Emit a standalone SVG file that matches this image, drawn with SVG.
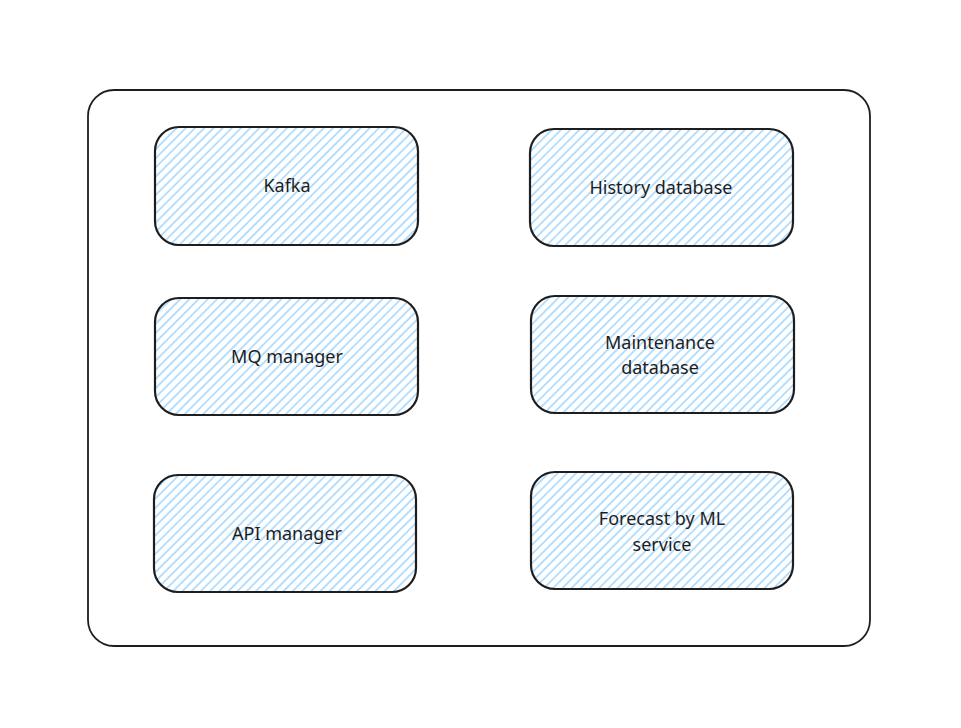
<svg xmlns="http://www.w3.org/2000/svg" width="961" height="728" viewBox="0 0 961 728">
<defs>
<pattern id="hatch" patternUnits="userSpaceOnUse" width="6.5" height="6.5" patternTransform="rotate(45)">
<line x1="1" y1="0" x2="1" y2="6.5" stroke="#a5d8ff" stroke-width="1.6"/>
</pattern>
</defs>
<style>
.frame{fill:#ffffff;stroke:#1e1e1e;stroke-width:1.8}
.box{fill:url(#hatch);stroke:#1e1e1e;stroke-width:2.2}
.lbl{font-family:"Noto Sans","DejaVu Sans",sans-serif;font-size:18px;fill:#1e1e1e;text-anchor:middle;dominant-baseline:central}
</style>
<rect width="961" height="728" fill="#ffffff"/>
<g id="container">
<rect class="frame" x="88" y="90" width="782" height="556" rx="26"/>
</g>
<g id="kafka">
<rect class="box" x="155" y="127" width="263" height="118" rx="24"/>
<text class="lbl" x="287" y="185">Kafka</text>
</g>
<g id="history-db">
<rect class="box" x="530" y="129" width="263" height="117" rx="24"/>
<text class="lbl" x="661" y="187">History database</text>
</g>
<g id="mq-manager">
<rect class="box" x="155" y="298" width="263" height="117" rx="24"/>
<text class="lbl" x="287" y="356">MQ manager</text>
</g>
<g id="maintenance-db">
<rect class="box" x="531" y="296" width="263" height="117" rx="24"/>
<text class="lbl" x="660" y="342">Maintenance</text>
<text class="lbl" x="660" y="367">database</text>
</g>
<g id="api-manager">
<rect class="box" x="154" y="475" width="262" height="117" rx="24"/>
<text class="lbl" x="287" y="533">API manager</text>
</g>
<g id="forecast-ml">
<rect class="box" x="531" y="472" width="262" height="117" rx="24"/>
<text class="lbl" x="662" y="518">Forecast by ML</text>
<text class="lbl" x="662" y="544">service</text>
</g>
<g id="connectors"></g>
</svg>
